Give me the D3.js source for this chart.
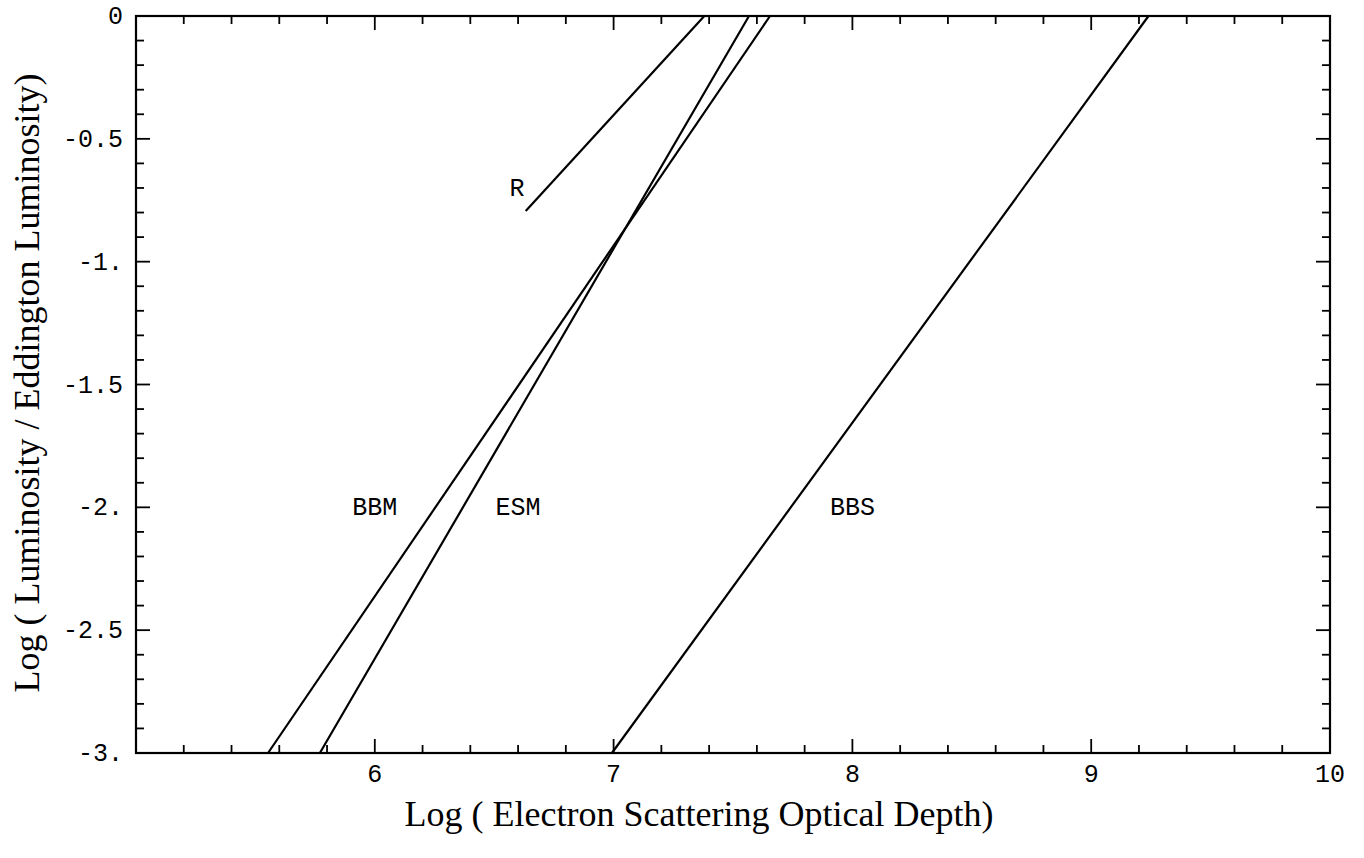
<!DOCTYPE html>
<html>
<head>
<meta charset="utf-8">
<script src="https://cdn.jsdelivr.net/npm/d3@7"></script>
<style>
  body { margin: 0; background: #fff; }
  svg { display: block; }
</style>
</head>
<body>
<svg width="1364" height="858"></svg>
<script>
// data ************************************************************
var xTickValues = [6, 7, 8, 9, 10];
var xTickLabels = ["6", "7", "8", "9", "10"];
var yTickValues = [0, -0.5, -1, -1.5, -2, -2.5, -3];
var yTickLabels = ["0", "-0.5", "-1.", "-1.5", "-2.", "-2.5", "-3."];

var bbm = [[5.553, -3], [7.655, 0]];
var esm = [[5.77, -3], [7.567, 0]];
var bbs = [[6.993, -3], [9.24, 0]];
var rLine = [[6.632, -0.794], [7.38, 0]];

var curveLabels = [
    { text: "R", x: 6.595, y: -0.70 },
    { text: "BBM", x: 6.0, y: -2.0 },
    { text: "ESM", x: 6.6, y: -2.0 },
    { text: "BBS", x: 8.0, y: -2.0 }
];

// layout ***********************************************************
var svg = d3.select('svg');
var plotLeft = 136, plotRight = 1330, plotTop = 16, plotBottom = 753;

var x = d3.scaleLinear().domain([5, 10]).range([plotLeft, plotRight]);
var y = d3.scaleLinear().domain([-3, 0]).range([plotBottom, plotTop]);

var minorX = d3.range(50, 101, 2).map(d => d / 10);
var minorY = d3.range(-30, 1, 1).map(d => d / 10);
var isMajorX = d => Math.abs(d - Math.round(d)) < 1e-6;
var isMajorY = d => Math.abs(d * 2 - Math.round(d * 2)) < 1e-6;

function tickLen(major) { return major ? 14 : 8; }

var ticks = svg.append('g').attr('stroke', '#000').attr('stroke-width', 1.8);

// bottom + top
minorX.forEach(function (d) {
    var len = tickLen(isMajorX(d));
    ticks.append('line').attr('x1', x(d)).attr('x2', x(d)).attr('y1', plotBottom).attr('y2', plotBottom - len);
    ticks.append('line').attr('x1', x(d)).attr('x2', x(d)).attr('y1', plotTop).attr('y2', plotTop + len);
});
// left + right
minorY.forEach(function (d) {
    var len = tickLen(isMajorY(d));
    ticks.append('line').attr('y1', y(d)).attr('y2', y(d)).attr('x1', plotLeft).attr('x2', plotLeft + len);
    ticks.append('line').attr('y1', y(d)).attr('y2', y(d)).attr('x1', plotRight).attr('x2', plotRight - len);
});

// frame
svg.append('rect')
    .attr('x', plotLeft).attr('y', plotTop)
    .attr('width', plotRight - plotLeft).attr('height', plotBottom - plotTop)
    .attr('fill', 'none').attr('stroke', '#000').attr('stroke-width', 2.2);

// tick labels
svg.append('g').selectAll('text')
    .data(xTickValues)
    .enter().append('text')
    .attr('x', d => x(d))
    .attr('y', plotBottom + 29)
    .attr('text-anchor', 'middle')
    .attr('font-family', '"Liberation Mono", monospace')
    .attr('font-size', 25)
    .text((d, i) => xTickLabels[i]);

svg.append('g').selectAll('text')
    .data(yTickValues)
    .enter().append('text')
    .attr('x', plotLeft - 13)
    .attr('y', d => y(d) + 8)
    .attr('text-anchor', 'end')
    .attr('font-family', '"Liberation Mono", monospace')
    .attr('font-size', 25)
    .text((d, i) => yTickLabels[i]);

// curves
var line = d3.line().x(d => x(d[0])).y(d => y(d[1]));
[bbm, esm, bbs, rLine].forEach(function (pts) {
    svg.append('path')
        .attr('d', line(pts))
        .attr('fill', 'none')
        .attr('stroke', '#000')
        .attr('stroke-width', 2.2);
});

svg.append('g').selectAll('text')
    .data(curveLabels)
    .enter().append('text')
    .attr('x', d => x(d.x))
    .attr('y', d => y(d.y) + 8)
    .attr('text-anchor', 'middle')
    .attr('font-family', '"Liberation Mono", monospace')
    .attr('font-size', 25)
    .text(d => d.text);

// axis titles
svg.append('text')
    .attr('x', 699)
    .attr('y', 826)
    .attr('text-anchor', 'middle')
    .attr('font-family', '"Liberation Serif", serif')
    .attr('font-size', 36)
    .text('Log ( Electron Scattering Optical Depth)');

svg.append('text')
    .attr('transform', 'translate(39,383) rotate(-90)')
    .attr('text-anchor', 'middle')
    .attr('font-family', '"Liberation Serif", serif')
    .attr('font-size', 36)
    .text('Log ( Luminosity / Eddington Luminosity)');
</script>
</body>
</html>
